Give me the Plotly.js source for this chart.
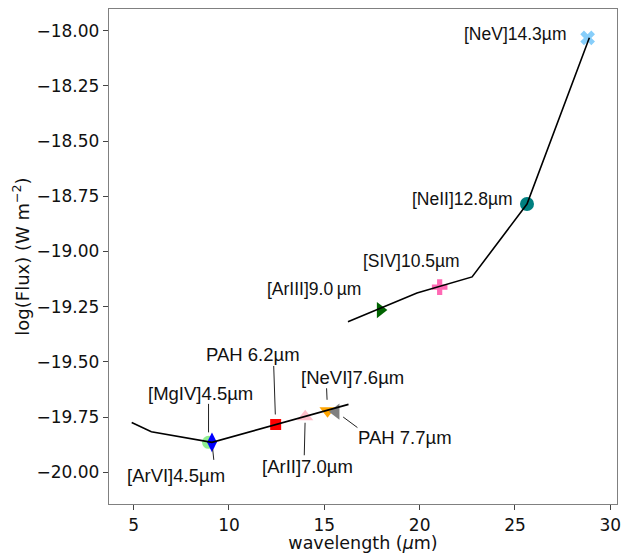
<!DOCTYPE html>
<html>
<head>
<meta charset="utf-8">
<script src="https://cdn.plot.ly/plotly-3.0.1.min.js"></script>
<style>html,body{margin:0;padding:0;background:#fff;}#chart{width:622px;height:553px;}</style>
</head>
<body>
<div id="chart"></div>
<script>
// ---- data ----
const contX1 = [4.90, 5.93, 9.11, 16.27];
const contY1 = [-19.774, -19.816, -19.864, -19.692];
const contX2 = [16.24, 19.86, 22.75, 25.63, 28.90];
const contY2 = [-19.318, -19.188, -19.115, -18.785, -18.032];

const lineNames = ["[MgIV]4.5µm", "[ArVI]4.5µm", "PAH 6.2µm", "[ArII]7.0µm", "[NeVI]7.6µm",
                   "PAH 7.7µm", "[ArIII]9.0\u2009µm", "[SIV]10.5µm", "[NeII]12.8µm", "[NeV]14.3µm"];
const lineX = [8.93, 9.11, 12.45, 14.00, 15.17, 15.61, 17.94, 21.05, 25.63, 28.81];
const lineY = [-19.864, -19.864, -19.783, -19.748, -19.721, -19.725, -19.265, -19.161, -18.785, -18.033];

const xTicks = [5, 10, 15, 20, 25, 30];
const yTicks = [-20.00, -19.75, -19.50, -19.25, -19.00, -18.75, -18.50, -18.25, -18.00];

// ---- styles ----
const colors = ["#90ee90", "#0000ff", "#ff0000", "#ffc0cb", "#ffa500", "#808080", "#006400", "#ff69b4", "#008080", "#87cefa"];
const symbols = ["circle", "diamond-tall", "square", "triangle-up", "triangle-down", "triangle-left",
                 "triangle-right", "cross", "circle", "x"];
const sizes = [13, 14, 11, 14, 14, 14, 14, 13, 14, 13];
const fontSizes = [18.5, 18.5, 18.5, 18.5, 18.5, 18.5, 17.5, 17.5, 17.5, 17.5];
// label offsets in px relative to point (text centre)
const labelShift = [[-8, 49], [-36, -33], [-23, 70], [2, -50], [25, 33], [69, -26], [-66, 21], [-28, 26], [-64, 5], [-72, 4]];
// leader lines: [ax, ay, standoff] or null
const leaders = [[0, -40, 10], [2, 19, 7], [-2, -60, 10], [-1, 40, 6], [-1, -24, 11], [23, 17, 9], null, null, null, null];

const traces = [];
for (let i = 0; i < lineX.length; i++) {
  traces.push({
    x: [lineX[i]], y: [lineY[i]], type: 'scatter', mode: 'markers',
    marker: {color: colors[i], symbol: symbols[i], size: sizes[i], line: {width: 0}},
    showlegend: false, hoverinfo: 'skip'
  });
}
traces.push({x: contX1, y: contY1, type: 'scatter', mode: 'lines', line: {color: '#000', width: 1.6}, showlegend: false});
traces.push({x: contX2, y: contY2, type: 'scatter', mode: 'lines', line: {color: '#000', width: 1.6}, showlegend: false});

const annotations = [];
for (let i = 0; i < lineX.length; i++) {
  annotations.push({
    x: lineX[i], y: lineY[i], xref: 'x', yref: 'y', text: lineNames[i], showarrow: false,
    xshift: labelShift[i][0], yshift: labelShift[i][1], xanchor: 'center', yanchor: 'middle',
    font: {family: 'Liberation Sans, Arial, sans-serif', size: fontSizes[i], color: '#111'}
  });
  if (leaders[i]) {
    annotations.push({
      x: lineX[i], y: lineY[i], xref: 'x', yref: 'y', text: '', showarrow: true,
      ax: leaders[i][0], ay: leaders[i][1], standoff: leaders[i][2],
      arrowhead: 0, arrowwidth: 1, arrowcolor: '#222'
    });
  }
}

const tickFont = {family: 'DejaVu Sans, sans-serif', size: 17, color: '#111'};
const titleFont = {family: 'DejaVu Sans, sans-serif', size: 18, color: '#111'};
const xTitleFont = {family: 'DejaVu Sans, sans-serif', size: 17.5, color: '#111'};
const layout = {
  width: 622, height: 553,
  margin: {l: 109, r: 5, t: 9, b: 49, pad: 0},
  paper_bgcolor: '#fff', plot_bgcolor: '#fff',
  xaxis: {
    range: [3.71, 30.35], tickvals: xTicks, ticktext: xTicks.map(String),
    ticks: 'outside', ticklen: 5, tickwidth: 1, tickcolor: '#444',
    showline: true, mirror: true, linecolor: '#808080', linewidth: 1.2,
    showgrid: false, zeroline: false, tickfont: tickFont,
    title: {text: 'wavelength (<i>µ</i>m)', font: xTitleFont, standoff: 8}
  },
  yaxis: {
    range: [-20.143, -17.902], tickvals: yTicks, ticktext: yTicks.map(v => (v < 0 ? '\u2212' : '') + Math.abs(v).toFixed(2)),
    ticks: 'outside', ticklen: 5, tickwidth: 1, tickcolor: '#444',
    showline: true, mirror: true, linecolor: '#808080', linewidth: 1.2,
    showgrid: false, zeroline: false, tickfont: tickFont,
    title: {text: 'log(Flux) (W m<sup>\u22122</sup>)', font: titleFont, standoff: 2}
  },
  annotations: annotations
};

Plotly.newPlot('chart', traces, layout, {displayModeBar: false, staticPlot: true});
</script>
</body>
</html>
